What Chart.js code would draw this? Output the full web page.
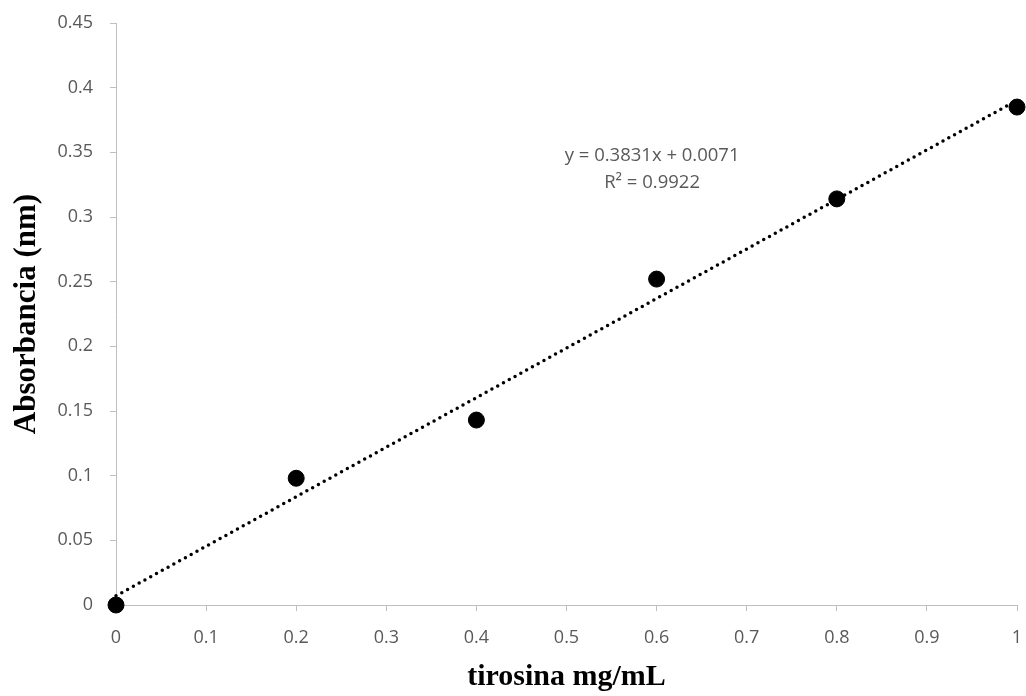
<!DOCTYPE html>
<html>
<head>
<meta charset="utf-8">
<script src="https://cdn.jsdelivr.net/npm/chart.js@4.4.1/dist/chart.umd.min.js"></script>
<style>
html,body{margin:0;padding:0;background:#fff;}
#wrap{width:1026px;height:696px;}
</style>
</head>
<body>
<div id="wrap"><canvas id="c" width="1026" height="696"></canvas></div>
<script>
const xValues = [0, 0.2, 0.4, 0.6, 0.8, 1.0];
const yValues = [0, 0.098, 0.143, 0.252, 0.314, 0.385];
const slope = 0.3831;
const intercept = 0.0071;
const trendX = [0, 1];
const equationLines = ["y = 0.3831x + 0.0071", "R² = 0.9922"];
const equationAnchor = {x: 0.595, y: 0.3472};
const xTitle = "tirosina mg/mL";
const yTitle = "Absorbancia (nm)";

const points = xValues.map((x, i) => ({x: x, y: yValues[i]}));
const trend = trendX.map(x => ({x: x, y: slope * x + intercept}));

const eqPlugin = {
  id: 'eq',
  afterDatasetsDraw(chart) {
    const ctx = chart.ctx;
    const xs = chart.scales.x, ys = chart.scales.y;
    const px = xs.getPixelForValue(equationAnchor.x);
    const py = ys.getPixelForValue(equationAnchor.y);
    ctx.save();
    ctx.font = '18.5px "Open Sans", sans-serif';
    ctx.fillStyle = '#595959';
    ctx.textAlign = 'center';
    ctx.textBaseline = 'middle';
    equationLines.forEach((t, i) => ctx.fillText(t, px, py + i * 27));
    ctx.restore();
  }
};

new Chart(document.getElementById('c'), {
  type: 'scatter',
  data: {
    datasets: [
      {
        type: 'line',
        data: trend,
        borderColor: '#000',
        borderWidth: 3.5,
        borderDash: [0, 6.6],
        borderCapStyle: 'round',
        pointRadius: 0,
        fill: false,
        clip: false,
        order: 2
      },
      {
        data: points,
        backgroundColor: '#000',
        borderColor: '#000',
        pointRadius: 8,
        pointHoverRadius: 8,
        clip: false,
        order: 1
      }
    ]
  },
  options: {
    responsive: false,
    animation: false,
    events: [],
    layout: {padding: {left: 8, right: 9, top: 23, bottom: 0}},
    plugins: {legend: {display: false}, tooltip: {enabled: false}},
    scales: {
      x: {
        type: 'linear',
        min: 0, max: 1,
        afterFit: s => { s.height = 91; s.paddingLeft = 0; s.paddingRight = 0; },
        ticks: {stepSize: 0.1, maxRotation: 0, color: '#595959', font: {family: '"Open Sans", sans-serif', size: 18}, padding: 16,
          callback: v => String(Math.round(v * 10) / 10)},
        grid: {display: true, drawOnChartArea: false, drawTicks: true, tickLength: 6, color: '#bfbfbf'},
        border: {display: true, color: '#bfbfbf', width: 1},
        title: {display: true, text: xTitle, color: '#000', font: {family: '"Liberation Serif", serif', size: 30, weight: 'bold'}, padding: {top: 0, bottom: 1}}
      },
      y: {
        type: 'linear',
        min: 0, max: 0.45,
        afterFit: s => { s.width = 108; s.paddingTop = 0; s.paddingBottom = 0; },
        ticks: {stepSize: 0.05, color: '#595959', font: {family: '"Open Sans", sans-serif', size: 18}, padding: 17,
          callback: v => String(Math.round(v * 100) / 100)},
        grid: {display: true, drawOnChartArea: false, drawTicks: true, tickLength: 6, color: '#bfbfbf'},
        border: {display: true, color: '#bfbfbf', width: 1},
        title: {display: true, text: yTitle, color: '#000', font: {family: '"Liberation Serif", serif', size: 31, weight: 'bold'}, padding: {top: 0, bottom: 0}}
      }
    }
  },
  plugins: [eqPlugin]
});
</script>
</body>
</html>
